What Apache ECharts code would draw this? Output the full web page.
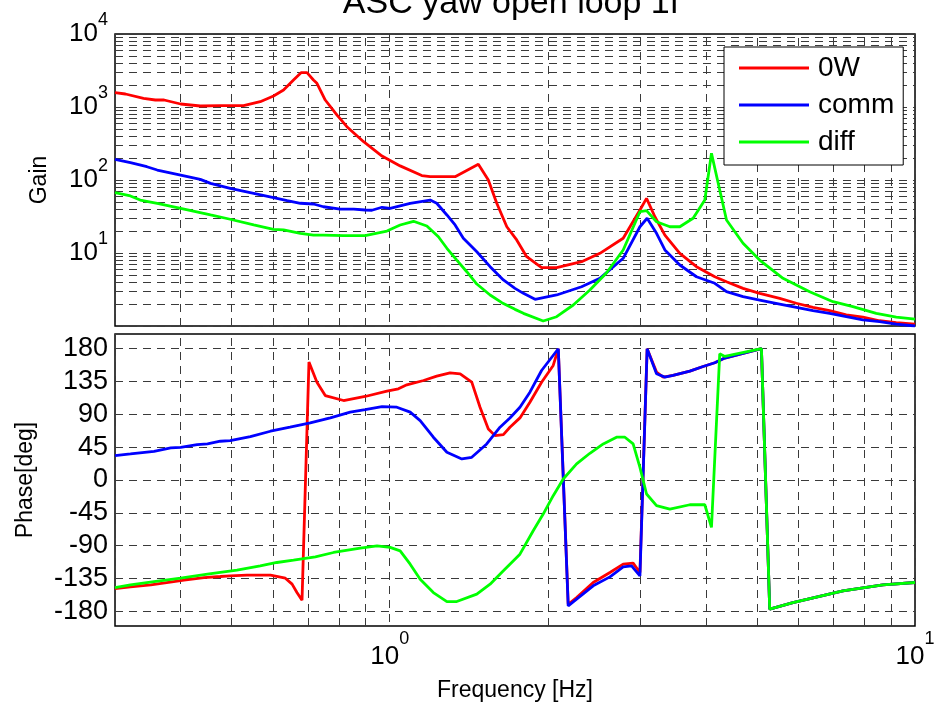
<!DOCTYPE html>
<html><head><meta charset="utf-8">
<script src="https://cdn.jsdelivr.net/npm/echarts@6/dist/echarts.min.js"></script>
<style>html,body{margin:0;padding:0;background:#fff}#c{width:945px;height:705px}</style>
</head><body><div id="c"></div>
<script>
const chartTitle = 'ASC yaw open loop 1f';
const seriesNames = ['0W', 'comm', 'diff'];
const seriesColors = ['#ff0000', '#0000ff', '#00ff00'];

// [frequency Hz, gain]
const gain0W = [[0.300,1570],[0.314,1507],[0.340,1315],[0.358,1247],[0.372,1247],[0.400,1099],[0.436,1032],[0.476,1042],[0.527,1042],[0.567,1182],[0.601,1415],[0.628,1709],[0.656,2344],[0.678,2951],[0.696,2951],[0.716,2344],[0.727,2113],[0.754,1247],[0.794,776],[0.829,537],[0.892,335],[0.967,213],[1.047,156],[1.151,115],[1.194,111],[1.332,111],[1.475,164],[1.541,100],[1.599,48],[1.671,22.9],[1.745,15.1],[1.823,8.9],[1.946,6.29],[2.079,6.29],[2.319,7.6],[2.513,9.9],[2.783,15.9],[2.995,38.8],[3.083,56.1],[3.198,31.4],[3.341,17.6],[3.567,9.9],[3.837,6.5],[4.158,4.73],[4.377,4.04],[4.706,3.28],[5.062,2.80],[5.526,2.39],[5.945,2.05],[6.394,1.80],[6.879,1.62],[7.399,1.42],[7.959,1.32],[8.560,1.18],[9.211,1.11],[10,1.06]];
const gainComm = [[0.300,192],[0.321,173],[0.345,152],[0.361,137],[0.400,117],[0.436,102],[0.456,90],[0.497,77],[0.551,65.8],[0.601,57.3],[0.638,52],[0.676,48],[0.716,46.9],[0.748,43],[0.805,40],[0.854,40],[0.898,38.8],[0.925,38.5],[0.967,42.3],[1.002,41],[1.094,48],[1.194,53.2],[1.229,48],[1.285,33.2],[1.332,24.2],[1.381,15.9],[1.465,10.4],[1.553,6.5],[1.646,4.27],[1.732,3.28],[1.797,2.80],[1.891,2.32],[2.079,2.66],[2.319,3.45],[2.513,4.50],[2.783,8.46],[2.995,22.9],[3.091,29.9],[3.221,18.6],[3.341,11.0],[3.567,6.85],[3.837,4.73],[4.158,3.85],[4.377,2.95],[4.706,2.52],[5.062,2.27],[5.526,2.0],[5.945,1.80],[6.394,1.62],[6.879,1.49],[7.399,1.34],[7.959,1.21],[8.560,1.15],[9.211,1.06],[10,1.0]];
const gainDiff = [[0.300,67],[0.321,60.4],[0.335,53.2],[0.361,48],[0.400,41],[0.456,33.2],[0.497,29],[0.551,24.2],[0.601,21.1],[0.628,20.7],[0.676,18.6],[0.716,17.6],[0.748,17.6],[0.817,17.3],[0.898,17.3],[0.988,20.0],[1.047,24.2],[1.110,27.2],[1.177,23.4],[1.238,16.7],[1.285,11.6],[1.342,8.0],[1.402,5.54],[1.465,3.76],[1.553,2.66],[1.635,2.09],[1.732,1.69],[1.797,1.49],[1.960,1.17],[2.079,1.34],[2.236,1.94],[2.405,3.11],[2.588,5.37],[2.783,11.0],[2.995,36.8],[3.083,38.0],[3.221,26.8],[3.415,22.9],[3.567,22.9],[3.781,29.9],[3.980,53.2],[4.098,232],[4.249,73],[4.377,28.3],[4.706,13.6],[5.062,8.0],[5.607,4.50],[6.302,2.95],[6.981,2.15],[7.616,1.84],[8.438,1.49],[9.211,1.32],[10,1.24]];

// [frequency Hz, phase deg]
const phase0W = [[0.300,-148.7],[0.321,-146.4],[0.351,-143.6],[0.388,-139.1],[0.406,-137.2],[0.443,-133.6],[0.476,-132.2],[0.497,-131.3],[0.535,-130.4],[0.593,-130.4],[0.633,-134.5],[0.652,-142.7],[0.666,-154.2],[0.681,-164.7],[0.702,161.5],[0.727,134.0],[0.754,115.7],[0.817,108.9],[0.898,114.4],[0.988,121.7],[1.039,124.9],[1.078,130.4],[1.160,136.3],[1.229,142.3],[1.303,146.8],[1.362,145.5],[1.433,134.0],[1.486,99.7],[1.541,70.0],[1.587,60.8],[1.646,62.2],[1.694,72.3],[1.770,85.1],[1.849,106.6],[1.946,134.0],[2.048,156.9],[2.094,179.8],[2.187,-170.2],[2.269,-161.0],[2.440,-140.4],[2.626,-126.7],[2.783,-115.3],[2.907,-113.9],[2.995,-126.7],[3.091,179.8],[3.221,147.8],[3.316,140.9],[3.463,143.2],[3.727,149.1],[3.951,155.5],[4.158,160.6],[4.344,167],[5.101,180],[5.290,-177],[5.856,-168],[7.292,-152],[8.686,-143.6],[10,-140.4]];
const phaseComm = [[0.300,33.4],[0.321,35.7],[0.356,39.3],[0.383,43.9],[0.400,44.8],[0.430,48.5],[0.450,49.4],[0.476,53.1],[0.497,54.0],[0.543,59.5],[0.593,66.8],[0.646,72.3],[0.706,78.2],[0.771,85.1],[0.841,92.9],[0.898,96.5],[0.967,100.6],[1.032,99.7],[1.094,92.9],[1.143,81.4],[1.211,58.6],[1.285,38.0],[1.372,28.8],[1.433,31.1],[1.530,49.4],[1.622,72.3],[1.694,85],[1.770,99.7],[1.849,120.3],[1.946,150.0],[2.094,179.8],[2.187,-172.5],[2.269,-163.3],[2.440,-145.0],[2.626,-132.7],[2.783,-118.9],[2.887,-117.6],[2.995,-131.3],[3.091,179.8],[3.221,145.5],[3.341,140.9],[3.463,143.2],[3.727,149.1],[3.951,155.5],[4.158,160.6],[4.344,167],[5.101,180],[5.290,-177],[5.856,-168],[7.292,-152],[8.686,-143.6],[10,-140.4]];
const phaseDiff = [[0.300,-147.3],[0.321,-143.6],[0.356,-139.1],[0.400,-134.5],[0.450,-129.0],[0.512,-123.5],[0.567,-117.6],[0.610,-113.0],[0.656,-109.8],[0.722,-105.2],[0.782,-99.3],[0.879,-93.3],[0.946,-90.1],[1.002,-92.4],[1.047,-97.0],[1.094,-115.3],[1.143,-135.9],[1.211,-154.2],[1.285,-166.5],[1.342,-166.5],[1.465,-156.4],[1.553,-142.7],[1.646,-124.4],[1.694,-115.3],[1.770,-101.6],[1.876,-69.5],[1.960,-46.7],[2.048,-21.5],[2.140,1.4],[2.269,22.0],[2.405,36.6],[2.550,49.4],[2.703,58.6],[2.804,58.6],[2.907,49.4],[2.995,17.4],[3.083,-19.2],[3.221,-35.2],[3.415,-39.8],[3.727,-33.9],[3.980,-33.9],[4.098,-65.0],[4.249,172.9],[4.344,169.3],[5.101,180],[5.290,-177],[5.856,-167.9],[7.292,-151.9],[8.686,-143.6],[10,-140.4]];

const freqRange = [0.3, 10];
const gainRange = [1, 10000];
const phaseRange = [-200, 200];
const phaseTicks = [-180, -135, -90, -45, 0, 45, 90, 135, 180];
const freqMinorGrid = [0.4, 0.5, 0.6, 0.7, 0.8, 0.9, 2, 3, 4, 5, 6, 7, 8, 9];
const gainMinorGrid = [2,3,4,5,6,7,8,9,20,30,40,50,60,70,80,90,200,300,400,500,600,700,800,900,2000,3000,4000,5000,6000,7000,8000,9000];

const FONT = 'Liberation Sans';
const dash = {color: '#3a3a3a', width: 1, type: [8, 6]};

function powLabel(v, skipOne) {
  const e = Math.round(Math.log10(v));
  if (Math.abs(v - Math.pow(10, e)) > 1e-6 * v) return '';
  if (skipOne && e === 0) return '';
  return '{b|10}{s|' + e + '}';
}
function powRich(pad) {
  return {
    b: {fontSize: 26, fontFamily: FONT, color: '#000', padding: [pad, 0, pad, 0]},
    s: {fontSize: 18, fontFamily: FONT, color: '#000', verticalAlign: 'top'}
  };
}

function grid(top) { return {left: 115, width: 800, top: top, height: 292, show: true, borderColor: '#000', borderWidth: 1.5, backgroundColor: '#fff'}; }

const xAxisBase = (gi) => ({
  type: 'log', logBase: 10, gridIndex: gi, min: freqRange[0], max: freqRange[1],
  axisLine: {show: false}, axisTick: {show: false},
  splitLine: {show: true, lineStyle: dash}
});

const mlineX = freqMinorGrid.map(v => ({xAxis: v}));
const mlineY = gainMinorGrid.map(v => ({yAxis: v}));

function markLines(data) {
  return {silent: true, symbol: ['none', 'none'], label: {show: false}, lineStyle: dash, animation: false, z: 1, emphasis: {disabled: true}, data: data};
}

const series = [];
const gains = [gain0W, gainComm, gainDiff];
const phases = [phase0W, phaseComm, phaseDiff];
for (let i = 0; i < 3; i++) {
  series.push({
    name: seriesNames[i], type: 'line', xAxisIndex: 0, yAxisIndex: 0, data: gains[i],
    showSymbol: false, symbol: 'none', lineStyle: {color: seriesColors[i], width: 2.8}, itemStyle: {color: seriesColors[i]},
    animation: false, z: 3 + i,
    markLine: i === 0 ? markLines(mlineX.concat(mlineY)) : undefined
  });
}
for (let i = 0; i < 3; i++) {
  series.push({
    name: seriesNames[i], type: 'line', xAxisIndex: 1, yAxisIndex: 1, data: phases[i],
    showSymbol: false, symbol: 'none', lineStyle: {color: seriesColors[i], width: 2.8}, itemStyle: {color: seriesColors[i]},
    animation: false, z: 3 + i,
    markLine: i === 0 ? markLines(mlineX) : undefined
  });
}

const chart = echarts.init(document.getElementById('c'), null, {renderer: 'canvas'});
chart.setOption({
  backgroundColor: '#fff',
  animation: false,
  textStyle: {fontFamily: FONT},
  title: {text: chartTitle, left: 506, textAlign: 'center', top: -18, textStyle: {fontFamily: FONT, fontSize: 34, fontWeight: 'normal', color: '#000'}},
  legend: {
    data: seriesNames, orient: 'vertical', left: 724, top: 47,
    padding: [7, 9, 9, 15], itemGap: 9, itemWidth: 70, itemHeight: 3, icon: 'rect',
    backgroundColor: '#fff', borderColor: '#000', borderWidth: 1,
    textStyle: {fontFamily: FONT, fontSize: 28, color: '#000', padding: [0, 0, 0, 4]},
    selectedMode: false
  },
  grid: [grid(34), grid(334)],
  xAxis: [
    Object.assign(xAxisBase(0), {axisLabel: {show: false}}),
    Object.assign(xAxisBase(1), {
      name: 'Frequency [Hz]', nameLocation: 'middle', nameGap: 53,
      nameTextStyle: {fontFamily: FONT, fontSize: 23, color: '#000'},
      axisLabel: {show: true, margin: 4, formatter: v => powLabel(v, false), rich: powRich(14)}
    })
  ],
  yAxis: [
    {
      type: 'log', logBase: 10, gridIndex: 0, min: gainRange[0], max: gainRange[1],
      name: 'Gain', nameLocation: 'middle', nameGap: 64, nameRotate: 90,
      nameTextStyle: {fontFamily: FONT, fontSize: 23, color: '#000'},
      axisLine: {show: false}, axisTick: {show: false},
      axisLabel: {margin: 7, formatter: v => powLabel(v, true), rich: powRich(10)},
      splitLine: {show: true, lineStyle: dash}
    },
    {
      type: 'value', gridIndex: 1, min: phaseRange[0], max: phaseRange[1],
      name: 'Phase[deg]', nameLocation: 'middle', nameGap: 78, nameRotate: 90,
      nameTextStyle: {fontFamily: FONT, fontSize: 23, color: '#000'},
      axisLine: {show: false},
      axisTick: {show: false, customValues: phaseTicks},
      axisLabel: {customValues: phaseTicks, margin: 7, fontFamily: FONT, fontSize: 27, color: '#000'},
      splitLine: {show: true, lineStyle: dash}
    }
  ],
  series: series
});
</script></body></html>
